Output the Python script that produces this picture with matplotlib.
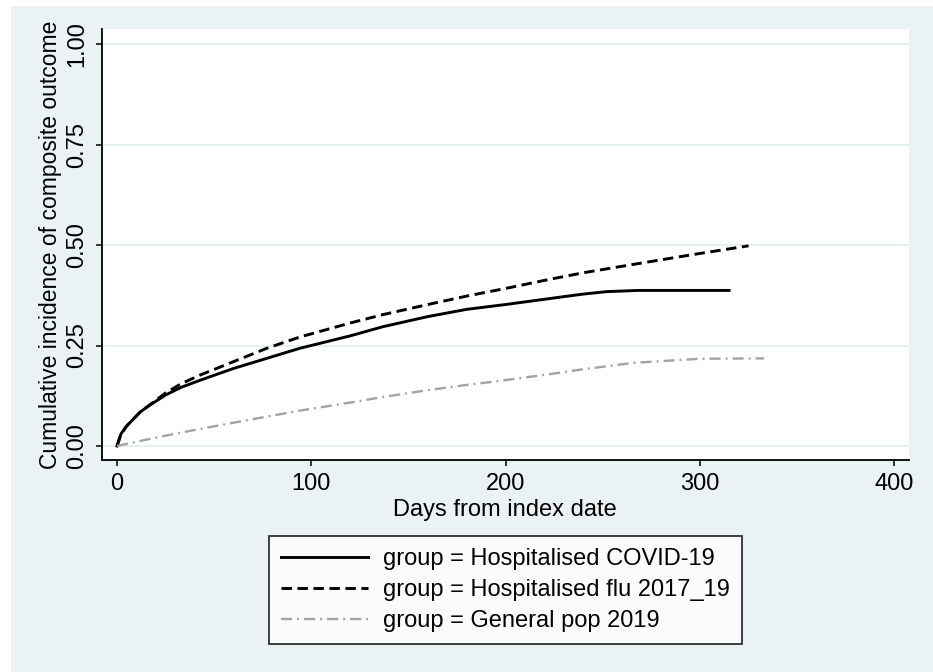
import matplotlib
matplotlib.use("Agg")
import matplotlib.pyplot as plt
from matplotlib.patches import Rectangle

plt.rcParams['font.family'] = ['Liberation Sans', 'DejaVu Sans']
plt.rcParams['lines.scale_dashes'] = False

# cumulative incidence
covid_days = [0, 2, 5, 8, 12, 17, 25, 33, 43, 60, 77, 94, 120, 137, 160, 180, 200, 223, 240, 252, 268, 315]
covid_inc = [0, 0.03, 0.05, 0.065, 0.085, 0.102, 0.127, 0.146, 0.164, 0.193, 0.218, 0.243, 0.274, 0.297,
             0.322, 0.340, 0.352, 0.367, 0.378, 0.384, 0.387, 0.387]

flu_days = [0, 2, 5, 8, 12, 17, 25, 33, 43, 60, 77, 94, 120, 137, 160, 180, 200, 223, 240, 266, 300, 325]
flu_inc = [0, 0.03, 0.05, 0.065, 0.085, 0.103, 0.132, 0.155, 0.177, 0.21, 0.243, 0.271, 0.306, 0.327,
           0.352, 0.373, 0.392, 0.415, 0.431, 0.452, 0.479, 0.498]

gen_days = [0, 20, 40, 60, 94, 120, 137, 160, 180, 197, 223, 240, 266, 300, 333]
gen_inc = [0, 0.021, 0.040, 0.058, 0.088, 0.108, 0.122, 0.139, 0.152, 0.162, 0.179, 0.191, 0.207, 0.217, 0.218]

labels = ["group = Hospitalised COVID-19", "group = Hospitalised flu 2017_19", "group = General pop 2019"]
y_ticks = [0, 0.25, 0.5, 0.75, 1.0]
x_ticks = [0, 100, 200, 300, 400]

bg = "#eaf2f3"
W, H = 933, 672
fig = plt.figure(figsize=(W / 100, H / 100), dpi=100, facecolor="white")
fig.patches.append(Rectangle((11 / W, 0), 1, 1 - 6 / H, transform=fig.transFigure,
                             facecolor=bg, edgecolor="none", zorder=-10))

ax = fig.add_axes([101.7 / W, 1 - 460 / H, (909 - 101.7) / W, (460 - 29.3) / H])
ax.set_facecolor("white")

ax.plot(covid_days, covid_inc, color="black", lw=2.1, label=labels[0])
ax.plot(flu_days, flu_inc, color="black", lw=2.1, dashes=(7.5, 4), label=labels[1])
ax.plot(gen_days, gen_inc, color="#a3a3a3", lw=1.7, dashes=(8, 3.6, 1.4, 3.6), label=labels[2])

ax.set_xlim(-7.9, 407.6)
ax.set_ylim(-0.0348, 1.0366)
ax.set_xticks(x_ticks)
ax.set_yticks(y_ticks)
ax.set_yticklabels(["%.2f" % v for v in y_ticks], rotation=90, va="center")
ax.grid(axis="y", color="#e4eef0", lw=1.3)
ax.set_axisbelow(True)

for s in ["top", "right"]:
    ax.spines[s].set_visible(False)
for s in ["left", "bottom"]:
    ax.spines[s].set_linewidth(1.3)
ax.tick_params(direction="out", length=4.5, width=1.1, labelsize=17, pad=5)

ax.set_xlabel("Days from index date", fontsize=17, labelpad=3)
ax.set_ylabel("Cumulative incidence of composite outcome", fontsize=16.5, labelpad=3)

leg = fig.legend(loc="upper left", bbox_to_anchor=(269 / W, 1 - 536 / H), bbox_transform=fig.transFigure,
                 fontsize=17, frameon=True, fancybox=False, handlelength=3.7, handletextpad=0.64,
                 borderpad=0.5, labelspacing=0.39, borderaxespad=0)
leg.get_frame().set_edgecolor("black")
leg.get_frame().set_linewidth(1.3)

fig.savefig("out.png", dpi=100, facecolor=fig.get_facecolor())
